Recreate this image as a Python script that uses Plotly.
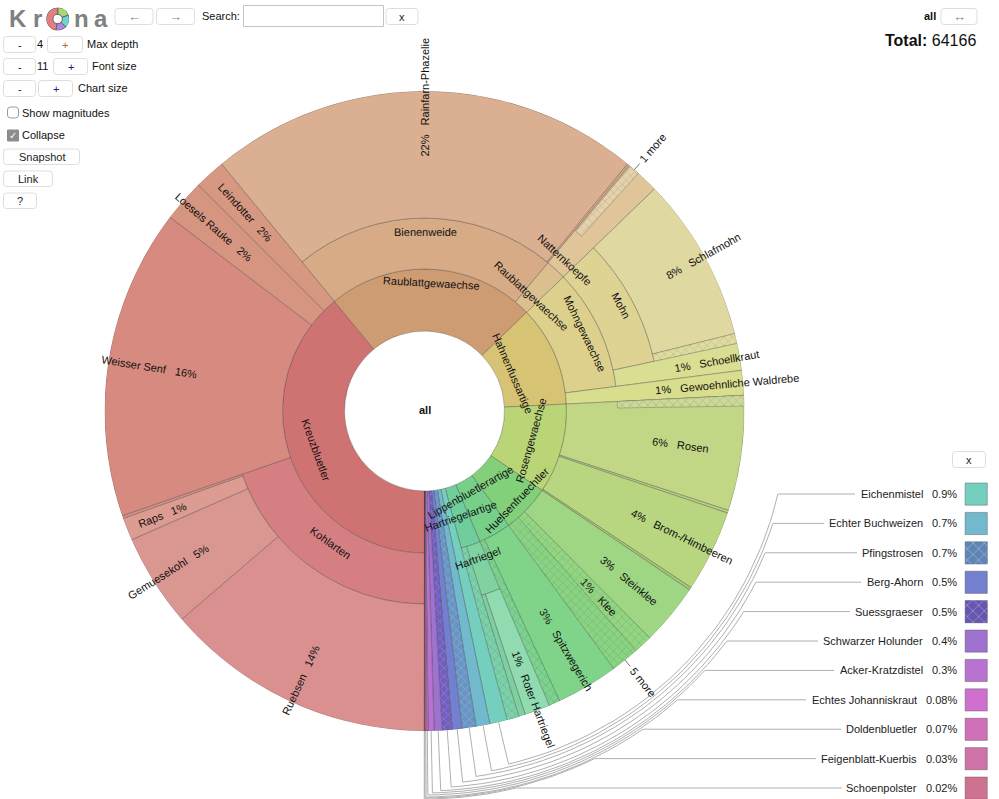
import math
import plotly.graph_objects as go

# ---------- tree data (share of total, %) ----------
node_labels = [
    "Kreuzbluetler", "Kohlarten", "Ruebsen", "Gemuesekohl", "Raps", "", "Weisser Senf", "Loesels Rauke", "Leindotter",
    "Raublattgewaechse", "Bienenweide", "Rainfarn-Phazelie", "", "Raublattgewaechse", "Natternkoepfe",
    "Hahnenfussartige", "Mohngewaechse", "Mohn", "Schlafmohn", "", "Schoellkraut", "Gewoehnliche Waldrebe",
    "Rosengewaechse", "Rosen", "", "Brom-/Himbeeren", "",
    "Huelsenfruechtler", "Steinklee", "Klee", "",
    "Lippenbluetlerartige", "Spitzwegerich", "",
    "Hartriegelartige", "Hartriegel", "Roter Hartriegel", "", "",
    "Eichenmistel", "Echter Buchweizen", "Pfingstrosen", "Berg-Ahorn", "Suessgraeser", "Schwarzer Holunder",
    "Acker-Kratzdistel", "Echtes Johanniskraut", "Doldenbluetler", "Feigenblatt-Kuerbis", "Schoenpolster",
]
node_parents = [
    -1, 0, 1, 1, 1, 1, 0, 0, 0,
    -1, 9, 10, 10, 9, 13,
    -1, 15, 16, 17, 17, 16, 15,
    -1, 22, 22, 22, 22,
    -1, 27, 27, 27,
    -1, 31, 31,
    -1, 34, 35, 35, 34,
    -1, -1, -1, -1, -1, -1, -1, -1, -1, -1, -1,
]
node_values = [
    0, 0, 13.72, 4.69, 1.14, 0.14, 15.67, 2.14, 1.56,
    0, 0, 21.89, 0.11, 0, 1.72,
    0, 0, 0, 8.33, 0.50, 1.36, 1.25,
    0, 5.81, 0.14, 4.14, 0.14,
    0, 3.11, 0.94, 1.42,
    0, 3.14, 0.56,
    0, 0, 1.28, 0.33, 0.61,
    0.88, 0.70, 0.70, 0.50, 0.50, 0.40, 0.30, 0.08, 0.07, 0.03, 0.02,
]
node_colors = [
    "#cf7272", "#d67f82", "#db9090", "#da9690", "#dc9c92", "#d9908a", "#d68a80", "#d69580", "#d69880",
    "#ce9c72", "#d6ab86", "#dbb092", "#d8a888", "#dcbf8e", "#dfc598",
    "#d6c474", "#dcd08c", "#dfd394", "#dfd8a0", "#dedb9c", "#dade92", "#d9dd8e",
    "#b9d576", "#c2d786", "#bcd080", "#b8d680", "#a8c878",
    "#82d07a", "#9ed683", "#8ed47c", "#84d27e",
    "#77d08a", "#80d48a", "#76d08a",
    "#70cd9c", "#80d3a0", "#90dbb0", "#7ed0a0", "#75cfa6",
    "#75cfbe", "#72b9cd", "#6f9fcf", "#7280cf", "#7a64c8", "#9f72cf",
    "#b872cf", "#cf70cf", "#cf70b8", "#cf72a8", "#cf7290",
]
hatched_nodes = [19, 29, 30, 33, 38, 41, 43]

hatch_overlay_nodes = [23, 14]
hatch_overlay_offsets = [0.0, 0.06]
hatch_overlay_values = [0.53, 0.53]
hatch_overlay_depths = [2, 3]
hatch_overlay_colors = ["#c6d48c", "#e2cda4"]

ring_radii = [80, 142, 193, 235, 320]

# radial leaf labels
leaf_label_nodes = [2, 3, 4, 6, 7, 8, 11, 18, 20, 21, 23, 25, 28, 29, 32, 36]
leaf_label_pcts = ["14%", "5%", "1%", "16%", "2%", "2%", "22%", "8%", "1%", "1%", "6%", "4%", "3%", "1%", "3%", "1%"]
leaf_label_radii = [296, 303, 282, 278, 280, 268, 314, 319, 297, 304, 258, 287, 266, 255, 278, 308]

# tangential labels of inner nodes
ring_label_nodes = [0, 1, 9, 10, 13, 14, 15, 16, 17, 22, 27, 31, 34, 35]
ring_label_radii = [115, 162, 128, 179, 157, 206, 96, 178, 223, 110, 129, 93, 111, 157]

# collapsed children
more_labels = ["1 more", "5 more"]
more_nodes = [14, 30]
more_shift = [-1.9, 0.0]
tick_nodes = [15, 22, 27, 31, 34]
tick_radii = [100, 122, 121, 102, 122]

# legend of the small slices
legend_nodes = [39, 40, 41, 42, 43, 44, 45, 46, 47, 48, 49]
legend_pcts = ["0.9%", "0.7%", "0.7%", "0.5%", "0.5%", "0.4%", "0.3%", "0.08%", "0.07%", "0.03%", "0.02%"]
legend_hatched = [False, False, True, False, True, False, False, False, False, False, False]
legend_arc_radii = [363, 366, 369, 373, 377, 380, 382, 384, 386, 387, 388]
legend_line_ends = [855, 824, 857, 861, 850, 818, 834, 806, 841, 816, 842]

logo_values = [19.5, 18, 15, 47.5]
logo_colors = ["#a8d86e", "#6ed6d0", "#b086e0", "#e57f7f"]

total_value = "64166"

# ---------- geometry ----------
CX, CY = 424.5, 411.0
W, H = 999, 799
TEXT = "#111111"
FONT = "Liberation Sans"

n = len(node_labels)
children = {i: [] for i in range(-1, n)}
for i, p in enumerate(node_parents):
    children[p].append(i)
start = [0.0] * n
span = [0.0] * n
depth = [0] * n


def walk(i, pos, d):
    start[i] = pos
    depth[i] = d
    s = node_values[i]
    for c in children[i]:
        s += walk(c, pos + s, d + 1)
    span[i] = s
    return s


pos = 0.0
for root in children[-1]:
    pos += walk(root, pos, 0)


def ang(share):
    return (180 + share * 3.6) % 360


def mid(i):
    return ang(start[i] + span[i] / 2)


def xy(r, deg):
    a = math.radians(deg)
    return CX + r * math.sin(a), CY - r * math.cos(a)


def blend(color, other, f):
    a = [int(color[j:j + 2], 16) for j in (1, 3, 5)]
    b = [int(other[j:j + 2], 16) for j in (1, 3, 5)]
    return "#" + "".join(f"{round(p + (q - p) * f):02x}" for p, q in zip(a, b))


# solid wedges, then the hatch lines on top
thetas, widths, bases, heights, colors = [], [], [], [], []
ht, hw, hb, hh, hc = [], [], [], [], []
for i in range(n):
    leaf = not children[i]
    r0 = ring_radii[depth[i]]
    r1 = ring_radii[-1] if leaf else ring_radii[depth[i] + 1]
    thetas.append(mid(i))
    widths.append(span[i] * 3.6)
    bases.append(r0)
    heights.append(r1 - r0)
    colors.append(node_colors[i])
    if i in hatched_nodes:
        ht.append(mid(i)); hw.append(span[i] * 3.6); hb.append(r0); hh.append(r1 - r0)
        hc.append(blend(node_colors[i], "#ffffff", 0.12) if i < 39 else blend(node_colors[i], "#202050", 0.25))
for k, i in enumerate(hatch_overlay_nodes):
    s = start[i] + hatch_overlay_offsets[k]
    r0 = ring_radii[hatch_overlay_depths[k]]
    t = ang(s + hatch_overlay_values[k] / 2)
    w = hatch_overlay_values[k] * 3.6
    thetas.append(t); widths.append(w); bases.append(r0); heights.append(ring_radii[-1] - r0)
    colors.append(hatch_overlay_colors[k])
    ht.append(t); hw.append(w); hb.append(r0); hh.append(ring_radii[-1] - r0)
    hc.append(blend(hatch_overlay_colors[k], "#ffffff", 0.3))

BAR_LINE = dict(color="rgba(50,50,50,0.45)", width=0.7)
fig = go.Figure()
fig.add_trace(go.Barpolar(
    theta=thetas, width=widths, base=bases, r=heights, subplot="polar",
    marker=dict(color=colors, line=BAR_LINE), hoverinfo="skip", showlegend=False))
fig.add_trace(go.Barpolar(
    theta=ht, width=hw, base=hb, r=hh, subplot="polar",
    marker=dict(color=hc, opacity=0.35, line=dict(width=0),
                pattern=dict(shape=["x"] * len(ht), size=6, solidity=0.25)),
    hoverinfo="skip", showlegend=False))

# logo
acc, lt, lw = 0.0, [], []
for v in logo_values:
    lt.append(acc + v * 1.8)
    lw.append(v * 3.6)
    acc += v * 3.6
fig.add_trace(go.Barpolar(
    theta=lt, width=lw, base=[4.5] * 4, r=[6.5] * 4, subplot="polar2",
    marker=dict(color=logo_colors, line=dict(color="#666666", width=1)),
    hoverinfo="skip", showlegend=False))

# leader lines in pixel overlay
lx, ly = [], []
for k, i in enumerate(more_nodes):
    t = mid(i) + more_shift[k]
    for r in (311, 328):
        x, y = xy(r, t)
        lx.append(x); ly.append(y)
    lx.append(None); ly.append(None)
for k, i in enumerate(tick_nodes):
    t = mid(i)
    for r in (tick_radii[k] - 3.5, tick_radii[k] + 3.5):
        x, y = xy(r, t)
        lx.append(x); ly.append(y)
    lx.append(None); ly.append(None)
fig.add_trace(go.Scatter(x=lx, y=ly, mode="lines", line=dict(color="#555555", width=0.8),
                         hoverinfo="skip", showlegend=False, xaxis="x", yaxis="y"))

row_y = [494 + 29.4 * k for k in range(len(legend_nodes))]
gx, gy = [], []
for k, i in enumerate(legend_nodes):
    t0 = mid(i)
    r = legend_arc_radii[k]
    ratio = (row_y[k] - CY) / r
    t1 = 180 - math.degrees(math.acos(ratio))
    x, y = xy(320, t0)
    gx.append(x); gy.append(y)
    steps = max(2, int(abs(t0 - t1) / 1.5))
    for s in range(steps + 1):
        x, y = xy(r, t0 + (t1 - t0) * s / steps)
        gx.append(x); gy.append(y)
    gx += [legend_line_ends[k], None]
    gy += [row_y[k], None]
fig.add_trace(go.Scatter(x=gx, y=gy, mode="lines", line=dict(color="#b0b0b0", width=1),
                         hoverinfo="skip", showlegend=False, xaxis="x", yaxis="y"))

# legend swatches
legend_colors = [node_colors[i] for i in legend_nodes]
m = len(legend_nodes)
fig.add_trace(go.Bar(
    x=[976.2] * m, base=[v - 11 for v in row_y], y=[22.2] * m, width=[22.2] * m,
    xaxis="x", yaxis="y", showlegend=False, hoverinfo="skip",
    marker=dict(color=legend_colors, line=dict(color="rgba(90,90,90,0.45)", width=1))))
sw = [k for k in range(m) if legend_hatched[k]]
fig.add_trace(go.Bar(
    x=[976.2] * len(sw), base=[row_y[k] - 11 for k in sw], y=[22.2] * len(sw), width=[22.2] * len(sw),
    xaxis="x", yaxis="y", showlegend=False, hoverinfo="skip",
    marker=dict(color=[blend(legend_colors[k], "#202050", 0.35) for k in sw], opacity=0.6,
                line=dict(width=0),
                pattern=dict(shape=["x"] * len(sw), size=8, solidity=0.2))))

ann = []


def text(x, y, s, size=11, anchor="center", angle=0, color=TEXT):
    pad = {"left": -2, "right": 2, "center": 0}[anchor]
    ann.append(dict(x=x + pad, y=y, xref="x", yref="y", text=s, showarrow=False, textangle=angle,
                    xanchor=anchor, yanchor="middle", align="center",
                    font=dict(family=FONT, size=size, color=color)))


GAP = "\u00a0\u00a0\u00a0"
for k, i in enumerate(leaf_label_nodes):
    t = mid(i)
    x, y = xy(leaf_label_radii[k], t)
    if t < 180:
        s, a = leaf_label_pcts[k] + GAP + node_labels[i], t - 90
    else:
        s, a = node_labels[i] + GAP + leaf_label_pcts[k], t + 90 - 360
    text(x, y, s, angle=a)
for k, i in enumerate(ring_label_nodes):
    t = mid(i)
    x, y = xy(ring_label_radii[k], t)
    a = t if t <= 90 else (t - 180 if t < 270 else t - 360)
    text(x, y, node_labels[i], angle=a)
for k, i in enumerate(more_nodes):
    t = (mid(i) + more_shift[k]) % 360
    x, y = xy(348, t)
    text(x, y, more_labels[k], angle=t - 90)
text(CX, 410, "<b>all</b>")

# legend text
for k, i in enumerate(legend_nodes):
    name_right = 923 if k < 7 else 917
    text(name_right, row_y[k], node_labels[i], anchor="right", color="#222222")
    text(957, row_y[k], legend_pcts[k], anchor="right", color="#222222")

# toolbar
shapes = []


def button(x0, y0, x1, y1, label="", color="#222222", border="#dedede", size=11):
    rr = 3
    path = (f"M{x0+rr},{y0} L{x1-rr},{y0} Q{x1},{y0} {x1},{y0+rr} L{x1},{y1-rr} Q{x1},{y1} {x1-rr},{y1} "
            f"L{x0+rr},{y1} Q{x0},{y1} {x0},{y1-rr} L{x0},{y0+rr} Q{x0},{y0} {x0+rr},{y0} Z")
    shapes.append(dict(type="path", path=path, xref="x", yref="y", fillcolor="#ffffff",
                       line=dict(color=border, width=1), layer="below"))
    if label:
        text((x0 + x1) / 2, (y0 + y1) / 2, label, color=color, size=size)


button(115, 8.5, 153, 24.5, "\u2190", "#888888", size=13)
button(156.5, 8.5, 194.5, 24.5, "\u2192", "#888888", size=13)
text(202, 16, "Search:", anchor="left")
shapes.append(dict(type="rect", x0=243.5, y0=5.5, x1=383.5, y1=26.5, xref="x", yref="y",
                   fillcolor="#ffffff", line=dict(color="#c4c4c4", width=1), layer="below"))
button(386, 8.5, 418, 24.5, "x")
button(3.5, 36.5, 35.5, 52.5, "-")
text(40, 44, "4")
button(47.5, 36.5, 82.5, 52.5, "+", "#a06a3a")
text(87, 44, "Max depth", anchor="left")
button(3.5, 58.5, 35.5, 74.5, "-")
text(42.5, 66, "11")
button(53.5, 58.5, 87.5, 74.5, "+", "#1a1a80")
text(92, 66, "Font size", anchor="left")
button(3.5, 80.5, 35.5, 96.5, "-")
button(38.5, 80.5, 72.5, 96.5, "+", "#1a1a80")
text(78, 88, "Chart size", anchor="left")
button(7.5, 107, 18.5, 118, border="#9a9a9a")
text(22, 112.5, "Show magnitudes", anchor="left")
shapes.append(dict(type="rect", x0=7.5, y0=130, x1=18.5, y1=141, xref="x", yref="y",
                   fillcolor="#8c8c8c", line=dict(color="#8c8c8c", width=1), layer="below"))
text(13, 135.5, "\u2713", color="#ffffff", size=10)
text(22, 135, "Collapse", anchor="left")
button(3.5, 149, 79.5, 164.5, "Snapshot")
button(3.5, 171, 52.5, 186.5, "Link")
button(3.5, 193, 36.5, 208.5, "?")
button(941, 8.5, 977, 24.5, "\u2194", "#888888", size=13)
text(936, 16, "<b>all</b>", anchor="right")
text(976, 40, "<b>Total:</b> " + total_value, size=16, anchor="right")
button(952.5, 451.5, 985.5, 467.5, "x")
for cx, ch in zip((18, 37.5, 81.5, 101), "Krna"):
    text(cx, 18, f"<b>{ch}</b>", size=24, color="#808080")

fig.update_layout(
    width=W, height=H, margin=dict(l=0, r=0, t=0, b=0), autosize=False,
    paper_bgcolor="#ffffff", plot_bgcolor="rgba(0,0,0,0)", showlegend=False,
    barmode="overlay",
    xaxis=dict(range=[0, W], domain=[0, 1], visible=False, fixedrange=True),
    yaxis=dict(range=[H, 0], domain=[0, 1], visible=False, fixedrange=True),
    polar=dict(
        domain=dict(x=[(CX - 320) / W, (CX + 320) / W], y=[1 - (CY + 320) / H, 1 - (CY - 320) / H]),
        bgcolor="rgba(0,0,0,0)", barmode="overlay", bargap=0,
        radialaxis=dict(range=[0, 320], visible=False),
        angularaxis=dict(direction="clockwise", rotation=90, visible=False),
    ),
    polar2=dict(
        domain=dict(x=[46.2 / W, 69.2 / W], y=[1 - 30.5 / H, 1 - 7.5 / H]),
        bgcolor="rgba(0,0,0,0)", barmode="overlay", bargap=0,
        radialaxis=dict(range=[0, 11], visible=False),
        angularaxis=dict(direction="clockwise", rotation=90, visible=False),
    ),
    annotations=ann, shapes=shapes,
)
fig.write_html("out.html", config=dict(displayModeBar=False),
               post_script="document.body.style.margin='0';")
